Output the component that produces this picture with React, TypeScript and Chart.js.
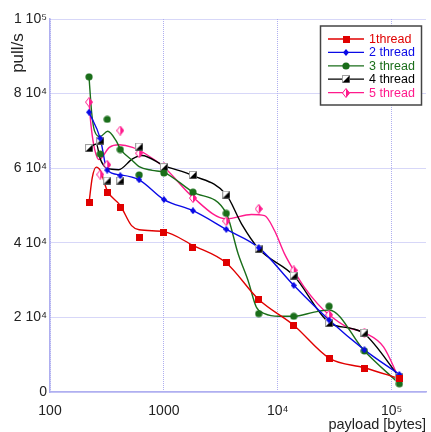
import React, { useEffect, useRef } from "react";
import { Chart, registerables } from "chart.js";

Chart.register(...registerables);

// payload sizes (bytes) at which measurements were taken
const payloads = [220, 276, 318, 414, 606, 1000, 1800, 3530, 6800, 13800, 28200, 57600, 116700];

// measured pull/s (markers)
const thread1 = [50700, null, 53600, 49500, 41300, 42800, 38800, 34600, 24900, 17700, 9000, 6400, 3600];
const thread2 = [75000, 68000, 59500, 58000, 56900, 51600, 48600, 43600, 38700, 28600, 19300, 11300, 4700];
const thread3 = [84500, 63800, 73100, 65000, 58200, 58700, 53600, 47900, 21000, 20300, 23000, 11000, 2200];
const thread4 = [65400, 67400, 56700, 56700, 65800, 60300, 58200, 52900, 38400, 31200, 18500, 15900, 4000];
const thread5 = [77700, 58300, 60900, 70100, 64000, 60300, 52000, 45800, 49100, 32600, 20700, 15900, 3400];

// smoothed fit curves
const fit1X = [220, 235, 255, 276, 318, 414, 520, 606, 1000, 1800, 3530, 6800, 13800, 28200, 57600, 116700];
const fit1Y = [50700, 57500, 60300, 59400, 54000, 50000, 44600, 43500, 43000, 39300, 34600, 24800, 17900, 9100, 6500, 3600];

const fit2X = [220, 276, 318, 414, 606, 1000, 1800, 3530, 6800, 13800, 28200, 57600, 116700];
const fit2Y = [75000, 68000, 59500, 58200, 56900, 51600, 48600, 43600, 38700, 28600, 19300, 11300, 4700];

const fit3X = [220, 232, 246, 276, 321, 380, 414, 530, 606, 790, 1000, 1800, 3530, 4490, 5480, 6470, 7650, 10300, 13800, 20800, 28200, 57600, 116700];
const fit3Y = [84500, 75000, 70000, 68500, 69900, 67400, 65200, 62000, 60400, 59400, 58900, 53600, 47900, 37000, 29900, 22800, 21000, 20300, 20300, 21400, 22000, 11000, 2200];

const fit4X = [220, 255, 276, 318, 400, 530, 640, 1000, 1800, 3530, 4800, 6800, 13800, 28200, 45000, 57600, 116700];
const fit4Y = [65400, 66500, 62500, 60000, 59600, 62500, 63400, 60700, 58000, 52900, 45100, 38400, 31200, 18600, 17000, 15600, 4000];

const fit5X = [220, 230, 246, 270, 332, 406, 530, 693, 1000, 1800, 3530, 5860, 7650, 9350, 11430, 13800, 17060, 22300, 28200, 40600, 57600, 84700, 116700];
const fit5Y = [77700, 71000, 65200, 62300, 65600, 66300, 65600, 63800, 60300, 52200, 46400, 47600, 47300, 43300, 37100, 32600, 28100, 23700, 20700, 17400, 15900, 12100, 3400];

const seriesNames = ["1thread", "2 thread", "3 thread", "4 thread", "5 thread"];
const seriesColors = ["#e00000", "#0a0ae6", "#1a6e1a", "#000000", "#ff1a8c"];

const xTicks = [100, 1000, 10000, 100000];
const xTickLabels = ["100", "1000", "10\u2074", "10\u2075"];
const yTickLabels = ["0", "2 10\u2074", "4 10\u2074", "6 10\u2074", "8 10\u2074", "1 10\u2075"];
const yTitle = "pull/s";
const xTitle = "payload [bytes]";

const FONT = "'Liberation Sans', Arial, sans-serif";
const GRID = "rgb(175,175,240)";

function makeMarker(kind: number): HTMLCanvasElement {
  const c = document.createElement("canvas");
  const ctx = c.getContext("2d")!;
  const col = seriesColors[kind];
  if (kind === 0) {
    c.width = 7; c.height = 7;
    ctx.fillStyle = col; ctx.fillRect(0, 0, 7, 7);
  } else if (kind === 1) {
    c.width = 6; c.height = 7;
    ctx.fillStyle = col;
    ctx.beginPath(); ctx.moveTo(3, 0); ctx.lineTo(6, 3.5); ctx.lineTo(3, 7); ctx.lineTo(0, 3.5); ctx.closePath(); ctx.fill();
  } else if (kind === 2) {
    c.width = 8; c.height = 8;
    ctx.fillStyle = col;
    ctx.beginPath(); ctx.arc(4, 4, 3.6, 0, Math.PI * 2); ctx.fill();
  } else if (kind === 3) {
    c.width = 8; c.height = 8;
    ctx.fillStyle = "#fff"; ctx.fillRect(0, 0, 8, 8);
    ctx.strokeStyle = "#a0a0a0"; ctx.lineWidth = 1; ctx.strokeRect(0.5, 0.5, 7, 7);
    ctx.fillStyle = "#000";
    ctx.beginPath(); ctx.moveTo(7.5, 0.5); ctx.lineTo(7.5, 7.5); ctx.lineTo(0.5, 7.5); ctx.closePath(); ctx.fill();
  } else {
    c.width = 8; c.height = 10;
    ctx.fillStyle = "#fff";
    ctx.beginPath(); ctx.moveTo(4, 0.5); ctx.lineTo(7.5, 5); ctx.lineTo(4, 9.5); ctx.lineTo(0.5, 5); ctx.closePath(); ctx.fill();
    ctx.fillStyle = col;
    ctx.beginPath(); ctx.moveTo(4, 0.5); ctx.lineTo(7.5, 5); ctx.lineTo(4, 9.5); ctx.closePath(); ctx.fill();
    ctx.strokeStyle = col; ctx.lineWidth = 1;
    ctx.beginPath(); ctx.moveTo(4, 0.5); ctx.lineTo(7.5, 5); ctx.lineTo(4, 9.5); ctx.lineTo(0.5, 5); ctx.closePath(); ctx.stroke();
  }
  return c;
}

export default function App() {
  const ref = useRef<HTMLCanvasElement | null>(null);

  useEffect(() => {
    if (!ref.current) return;
    const markers = [0, 1, 2, 3, 4].map(makeMarker);
    const values = [thread1, thread2, thread3, thread4, thread5];
    const fitsX = [fit1X, fit2X, fit3X, fit4X, fit5X];
    const fitsY = [fit1Y, fit2Y, fit3Y, fit4Y, fit5Y];

    const markerSets = values.map((vals, i) => ({
      label: seriesNames[i],
      data: payloads.map((x, j) => ({ x, y: vals[j] })).filter((p) => p.y !== null),
      showLine: false,
      pointStyle: markers[i],
      pointRadius: 4,
      borderColor: seriesColors[i],
      backgroundColor: seriesColors[i],
      order: 0,
    }));
    const curveSets = fitsX.map((xs, i) => ({
      label: seriesNames[i] + " fit",
      data: xs.map((x, j) => ({ x, y: fitsY[i][j] })),
      showLine: true,
      pointRadius: 0,
      borderColor: seriesColors[i],
      backgroundColor: seriesColors[i],
      borderWidth: 1.4,
      cubicInterpolationMode: "monotone" as const,
      order: 1,
    }));

    const decorPlugin = {
      id: "decor",
      afterDraw(chart: any) {
        const ctx = chart.ctx as CanvasRenderingContext2D;
        ctx.save();
        // y-axis title
        ctx.save();
        ctx.translate(18.5, 53);
        ctx.rotate(-Math.PI / 2);
        ctx.font = `17px ${FONT}`;
        ctx.fillStyle = "#222";
        ctx.textAlign = "center";
        ctx.textBaseline = "middle";
        ctx.fillText(yTitle, 0, 0);
        ctx.restore();
        // legend
        const bx = 320.5, by = 26, bw = 101, bh = 79;
        ctx.fillStyle = "#fff";
        ctx.fillRect(bx, by, bw, bh);
        ctx.strokeStyle = "#444";
        ctx.lineWidth = 1.5;
        ctx.strokeRect(bx, by, bw, bh);
        ctx.font = `12.5px ${FONT}`;
        ctx.textBaseline = "middle";
        ctx.textAlign = "left";
        for (let i = 0; i < 5; i++) {
          const y = 39 + i * 13.4;
          ctx.strokeStyle = seriesColors[i];
          ctx.lineWidth = 1.3;
          ctx.beginPath(); ctx.moveTo(328, y); ctx.lineTo(364, y); ctx.stroke();
          const m = markers[i];
          ctx.drawImage(m, Math.round(346 - m.width / 2), Math.round(y - m.height / 2));
          ctx.fillStyle = seriesColors[i];
          ctx.fillText(seriesNames[i], 369, y + 0.5);
        }
        ctx.restore();
      },
    };

    const chart = new Chart(ref.current, {
      type: "scatter",
      data: { datasets: [...markerSets, ...curveSets] as any },
      options: {
        animation: false,
        responsive: false,
        maintainAspectRatio: false,
        layout: { padding: { top: 19, right: 0, bottom: 0, left: 0 } },
        plugins: { legend: { display: false }, tooltip: { enabled: false } },
        scales: {
          x: {
            type: "logarithmic",
            min: 100,
            max: 200000,
            afterBuildTicks: (scale: any) => {
              scale.ticks = xTicks.map((v) => ({ value: v }));
            },
            afterFit: (scale: any) => {
              scale.height = 40;
            },
            ticks: {
              autoSkip: false,
              maxRotation: 0,
              padding: 11,
              color: "#222",
              font: { family: FONT, size: 14 },
              callback: (v: any) => {
                const k = xTicks.indexOf(Number(v));
                return k >= 0 ? xTickLabels[k] : "";
              },
            },
            grid: { color: GRID, lineWidth: 1, drawTicks: false },
            border: { display: true, color: GRID, width: 1.5, dash: [1, 1] },
            title: {
              display: true,
              text: xTitle,
              align: "end",
              color: "#222",
              font: { family: FONT, size: 14.5 },
              padding: { top: 0, bottom: -2 },
            },
          },
          y: {
            type: "linear",
            min: 0,
            max: 100000,
            afterFit: (scale: any) => {
              scale.width = 50;
            },
            ticks: {
              stepSize: 20000,
              padding: 3,
              color: "#222",
              font: { family: FONT, size: 14 },
              callback: (v: any) => yTickLabels[Math.round(Number(v) / 20000)] ?? "",
            },
            grid: { color: GRID, lineWidth: 1, drawTicks: false },
            border: { display: true, color: GRID, width: 1.5, dash: [1, 1] },
          },
        },
      },
      plugins: [decorPlugin],
    });
    return () => chart.destroy();
  }, []);

  return (
    <div style={{ position: "fixed", left: 0, top: 0, width: 431, height: 432, background: "#fff" }}>
      <canvas ref={ref} width={431} height={432} style={{ display: "block", width: 431, height: 432 }} />
    </div>
  );
}
